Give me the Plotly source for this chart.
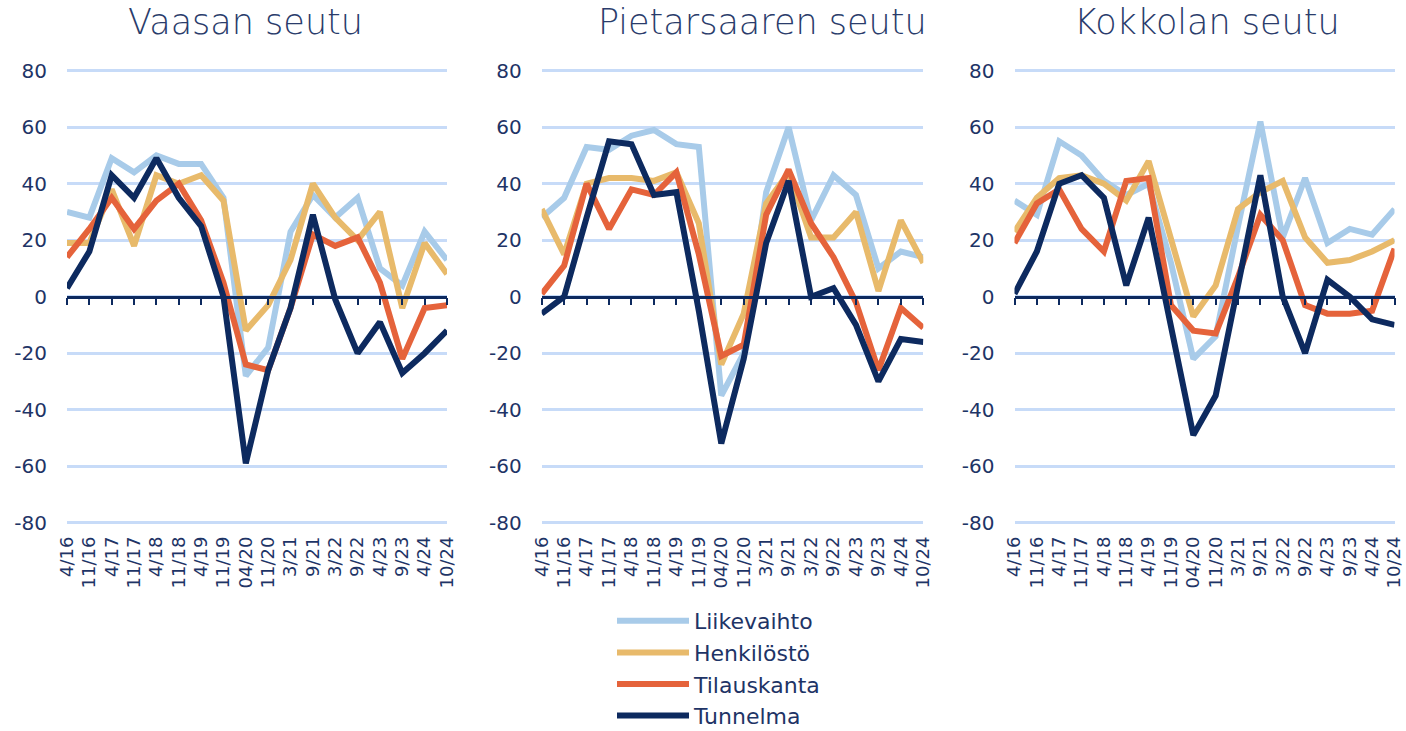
import plotly.graph_objects as go

categories = ["4/16", "11/16", "4/17", "11/17", "4/18", "11/18", "4/19", "11/19", "04/20",
              "11/20", "3/21", "9/21", "3/22", "9/22", "4/23", "9/23", "4/24", "10/24"]

region_titles = ["Vaasan seutu", "Pietarsaaren seutu", "Kokkolan seutu"]
series_names = ["Liikevaihto", "Henkilöstö", "Tilauskanta", "Tunnelma"]

# Vaasan seutu
liikevaihto_vaasa = [30, 28, 49, 44, 50, 47, 47, 35, -28, -18, 23, 36, 28, 35, 10, 4, 23, 13]
henkilosto_vaasa = [19, 19, 38, 18, 43, 40, 43, 34, -12, -3, 13, 40, 28, 20, 30, -4, 19, 8]
tilauskanta_vaasa = [14, 24, 35, 24, 34, 40, 27, 5, -24, -26, -4, 22, 18, 21, 5, -22, -4, -3]
tunnelma_vaasa = [3, 16, 43, 35, 49, 35, 25, 0, -59, -26, -4, 29, -1, -20, -9, -27, -20, -12]

# Pietarsaaren seutu
liikevaihto_pietarsaari = [28, 35, 53, 52, 57, 59, 54, 53, -35, -20, 37, 60, 27, 43, 36, 10, 16, 14]
henkilosto_pietarsaari = [31, 15, 40, 42, 42, 41, 44, 26, -24, -6, 33, 44, 21, 21, 30, 2, 27, 12]
tilauskanta_pietarsaari = [1, 11, 40, 24, 38, 36, 44, 15, -21, -17, 29, 45, 26, 14, -2, -26, -4, -11]
tunnelma_pietarsaari = [-6, 0, 28, 55, 54, 36, 37, -5, -52, -22, 19, 41, 0, 3, -10, -30, -15, -16]

# Kokkolan seutu
liikevaihto_kokkola = [34, 29, 55, 50, 41, 36, 40, 12, -22, -14, 25, 62, 21, 42, 19, 24, 22, 31]
henkilosto_kokkola = [23, 35, 42, 43, 40, 34, 48, 20, -7, 4, 31, 37, 41, 21, 12, 13, 16, 20]
tilauskanta_kokkola = [19, 33, 38, 24, 16, 41, 42, -3, -12, -13, 7, 29, 20, -3, -6, -6, -5, 17]
tunnelma_kokkola = [1, 16, 40, 43, 35, 4, 28, -10, -49, -35, 3, 43, 0, -20, 6, 0, -8, -10]

y_tickvals = [-80, -60, -40, -20, 0, 20, 40, 60, 80]
y_ticktext = ["-80", "-60", "-40", "-20", "0", "20", "40", "60", "80"]

colors = ["#A8CBE9", "#E8BA6B", "#E5633B", "#0D2A5F"]
navy_text = "#1E3466"
grid_color = "#C7DBF8"
font_family = "'DejaVu Sans', Verdana, sans-serif"

panels = [
    [liikevaihto_vaasa, henkilosto_vaasa, tilauskanta_vaasa, tunnelma_vaasa],
    [liikevaihto_pietarsaari, henkilosto_pietarsaari, tilauskanta_pietarsaari, tunnelma_pietarsaari],
    [liikevaihto_kokkola, henkilosto_kokkola, tilauskanta_kokkola, tunnelma_kokkola],
]

W, H = 1406, 731
x_px = [(67, 447), (541.7, 923.3), (1014.5, 1394.5)]
title_cx = [245, 762, 1207]
y80_px, ym80_px = 70.7, 522.7
unit = (ym80_px - y80_px) / 160.0
pad = 1.0
y_top_px, y_bot_px = y80_px - pad * unit, ym80_px + pad * unit
y_dom = [1 - y_bot_px / H, 1 - y_top_px / H]
zero_pos = 1 - ((y80_px + ym80_px) / 2) / H

fig = go.Figure()
layout = dict(
    width=W, height=H,
    margin=dict(l=0, r=0, t=0, b=0, autoexpand=False),
    paper_bgcolor="white", plot_bgcolor="white",
    font=dict(family=font_family, color=navy_text),
    showlegend=True,
    legend=dict(
        x=612 / W, xanchor="left", y=1 - 600 / H, yanchor="top",
        font=dict(size=22, color=navy_text, family=font_family),
        bgcolor="rgba(0,0,0,0)", itemwidth=72, tracegroupgap=0,
    ),
    annotations=[],
)

for p, data in enumerate(panels):
    xa = "x" if p == 0 else f"x{p + 1}"
    ya = "y" if p == 0 else f"y{p + 1}"
    for s, vals in enumerate(data):
        fig.add_trace(go.Scatter(
            x=categories, y=vals, mode="lines", name=series_names[s],
            line=dict(color=colors[s], width=6),
            xaxis=xa, yaxis=ya, showlegend=(p == 0), legendgroup=series_names[s],
            hoverinfo="x+y+name",
        ))
    x0, x1 = x_px[p]
    dom = [x0 / W, x1 / W]
    xkey = "xaxis" if p == 0 else f"xaxis{p + 1}"
    ykey = "yaxis" if p == 0 else f"yaxis{p + 1}"
    layout[xkey] = dict(
        domain=dom, type="category", categoryorder="array", categoryarray=categories,
        range=[0, len(categories) - 1], anchor="free", position=zero_pos,
        showline=True, linecolor="#0D2A5F", linewidth=2.5,
        ticks="outside", ticklen=7, tickwidth=2, tickcolor="#0D2A5F",
        showgrid=False, zeroline=False, tickangle=-90, automargin=False,
        tickfont=dict(size=18, color=navy_text, family=font_family),
        ticklabelstandoff=224,
    )
    layout[ykey] = dict(
        domain=y_dom, anchor=xa, range=[-80 - pad, 80 + pad], automargin=False,
        tickmode="array", tickvals=y_tickvals, ticktext=y_ticktext,
        showgrid=True, gridcolor=grid_color, gridwidth=2.5,
        zeroline=False, showline=False, ticks="",
        tickfont=dict(size=20, color=navy_text, family=font_family),
        ticklabelstandoff=19,
    )
    layout["annotations"].append(dict(
        text=region_titles[p], xref="paper", yref="paper",
        x=title_cx[p] / W, y=1, xanchor="center", yanchor="top",
        showarrow=False, font=dict(size=35, color="#2A3C6B", family=font_family, weight=300),
    ))

fig.update_layout(**layout)
fig.write_html(
    "out.html",
    config={"displayModeBar": False},
    post_script="document.body.style.margin='0';document.body.style.overflow='hidden';",
)
